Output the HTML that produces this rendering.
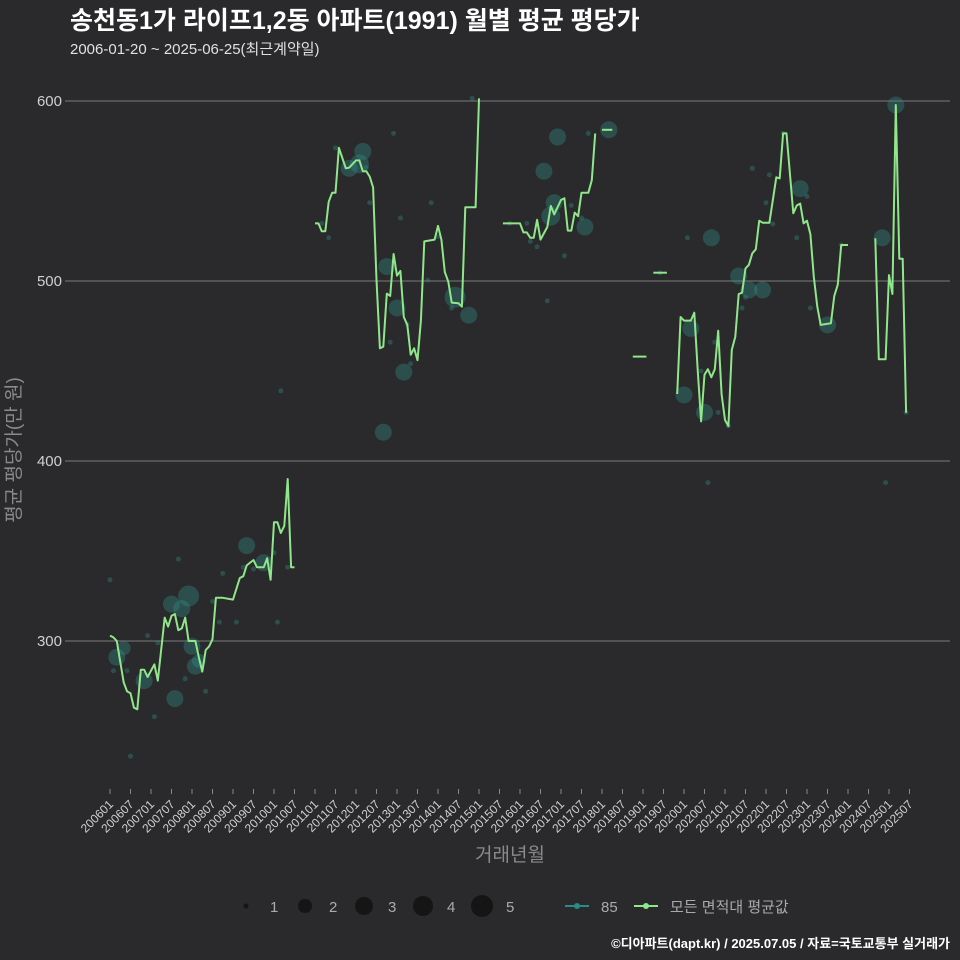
<!DOCTYPE html>
<html><head><meta charset="utf-8">
<style>
html,body{margin:0;padding:0;background:#2a292b;}
svg{display:block;font-family:"Liberation Sans","Noto Sans CJK KR",sans-serif;}
</style></head>
<body>
<svg id="chart" width="960" height="960" viewBox="0 0 960 960" xmlns="http://www.w3.org/2000/svg">
<rect width="960" height="960" fill="#2a292b"/>
<text x="70" y="29" font-size="25" font-weight="bold" fill="#ffffff">송천동1가 라이프1,2동 아파트(1991) 월별 평균 평당가</text>
<text x="70" y="54" font-size="15" fill="#e0e0e0">2006-01-20 ~ 2025-06-25(최근계약일)</text>
<g id="grid"></g>
<g id="yticks"></g>
<g id="xticks"></g>
<g id="bubbles"></g>
<g id="line"></g>
<text transform="translate(20,450) rotate(-90)" text-anchor="middle" font-size="19" fill="#8a8a8a">평균 평당가(만 원)</text>
<text x="510" y="861" text-anchor="middle" font-size="19" fill="#8a8a8a">거래년월</text>
<g font-size="15" fill="#aaaaaa">
  <g><circle cx="246" cy="906" r="2.5" fill="#151515"/><text x="270" y="912">1</text></g>
  <g><circle cx="305" cy="906" r="7" fill="#151515"/><text x="329" y="912">2</text></g>
  <g><circle cx="364" cy="906" r="9" fill="#151515"/><text x="388" y="912">3</text></g>
  <g><circle cx="423" cy="906" r="10" fill="#151515"/><text x="447" y="912">4</text></g>
  <g><circle cx="482" cy="906" r="11" fill="#151515"/><text x="506" y="912">5</text></g>
  <g><line x1="565" y1="906" x2="589" y2="906" stroke="#2a8a86" stroke-width="2"/><circle cx="577" cy="906" r="3" fill="#2a8a86"/><text x="601" y="912">85</text></g>
  <g><line x1="634" y1="906" x2="658" y2="906" stroke="#90e68a" stroke-width="2"/><circle cx="646" cy="906" r="3" fill="#90e68a"/><text x="670" y="912">모든 면적대 평균값</text></g>
</g>
<text x="950" y="948" text-anchor="end" font-size="13" font-weight="bold" fill="#ffffff">©디아파트(dapt.kr) / 2025.07.05 / 자료=국토교통부 실거래가</text>
</svg>
<script>
const yTicks = [300, 400, 500, 600];
const xTickLabels = [];
for (let y = 2006; y <= 2025; y++) { xTickLabels.push(y + "01"); xTickLabels.push(y + "07"); }
// average line: month index from 2006-01, null = break
const lineMonths = [0,1,2,4,5,6,7,8,9,10,11,13,14,16,17,18,19,20,21,22,23,25,26,27,28,29,30,31,33,36,38,39,40,42,43,45,46,47,48,49,50,51,52,53,54,null,
60,61,62,63,64,65,66,67,69,70,72,73,74,75,76,77,78,79,80,81,82,83,84,85,86,87,88,89,90,91,92,95,96,97,98,99,100,102,103,104,107,108,null,
115,120,121,122,123,124,125,126,128,129,130,132,133,134,135,136,137,138,140,141,142,null,
144,147,null,153,157,null,159,163,null,
166,167,168,170,171,172,173,174,175,176,177,178,179,180,181,182,183,184,185,186,187,188,189,190,191,193,195,196,197,198,200,201,202,203,204,205,206,207,208,211,212,213,214,216,null,
224,225,227,228,229,230,231,232,233];
const lineValues = [303,302,300,277,272,271,263,262,284,284,280,287,278,313,308,314,315,306,307,313,300,300,291,283,295,297,301,324,324,323,335,336,342,345,341,341,346,334,366,366,360,364,390,341,341,null,
532,532,527.6,527.6,544,549,549,574,562.6,563,567,567,561,561,558,552,500.5,462.6,463.5,493,491.7,515,503,505.6,480,475.6,459,462.6,456,478,522,523,530.6,523,505,499.6,488,487.6,485.7,541,541,601.5,null,
532,532,527,527,524,524,534,523,530,541.7,537,545,546,528,528,538,536,549,549,556,582,null,
584,584,null,458,458,null,504.6,504.6,null,
437.2,480,478,478,482.4,450.6,422,448,451,446.5,451,472.4,437,422.8,419.4,461.7,469,492.8,493.5,507,509,515.4,517.6,533.5,532.4,532.4,557.6,557,582,582,537.6,542,543,532,533.5,526,502.4,485.7,475.6,476.5,491.7,498,520,520,null,
523.7,456.5,456.5,503.3,492.8,597.8,512.4,512.4,426.8];
// bubbles (85㎡): month, value, count
const bubbleMonths = [0,2,4,1,5,10,11,6,13,14,19,18,23,21,20,22,24,25,26,28,30,32,33,37,40,39,42,45,48,49,52,50,
62,64,66,70,74,73,75,76,83,85,81,84,82,87,86,88,80,94,93,96,101,100,105,106,117,122,123,125,131,127,130,129,128,133,135,138,139,140,146,
161,169,176,168,170,173,174,178,177,181,184,187,191,185,186,188,192,193,194,197,202,204,201,205,210,214,226,230,233,227,175];
const bubbleValues = [334,291,296,283.5,283.5,278,303,236,258,299,268,320.5,325,318,345.5,279,297,286,289,272,322,310.5,337.6,310.5,353,341,340,343.5,349,310.5,341,439,
532,524,574,562.6,572,565,563,543.5,582,535,508,485,466,476,449.4,454,416,543.5,500.5,524.6,491,485,481,601.5,532,532,522,519,580,561,543.5,536,489,514,542,535,530,582,584,
504.6,524,524,436.7,473.7,450,427,427,466,419.4,502.8,495,495,485,491,562.6,543.5,559,531.7,582,551.3,547,524,485,475.6,520,524,597.8,427,388,388];
const bubbleCounts = [1,3,2,1,1,3,1,1,1,1,3,3,5,3,1,1,3,3,2,1,1,1,1,1,3,1,1,3,1,1,1,1,
1,1,1,3,3,4,1,1,1,1,3,3,1,1,3,1,3,1,1,1,5,1,3,1,1,1,1,1,3,3,3,4,1,1,1,1,3,1,3,
1,1,3,3,3,1,3,1,1,1,3,3,3,1,1,1,1,1,1,1,3,1,1,1,3,1,3,3,1,1,1];

const NS = "http://www.w3.org/2000/svg";
function xScale(m){ return 110 + m * 20.5 / 6; }
function yScale(v){ return 101 + (600 - v) * 1.8; }
function rScale(c){ return [0,2.5,7,8.5,9.5,10.5][c]; }

const grid = document.getElementById('grid');
const yt = document.getElementById('yticks');
yTicks.forEach(v => {
  const l = document.createElementNS(NS,'line');
  
  
  l.setAttribute('x1',65); l.setAttribute('x2',950);
  l.setAttribute('y1',yScale(v)); l.setAttribute('y2',yScale(v));
  l.setAttribute('stroke','#7a7a7a'); l.setAttribute('stroke-width','1');
  grid.appendChild(l);
  const t = document.createElementNS(NS,'text');
  
  
  t.setAttribute('x',62); t.setAttribute('y',yScale(v)+5);
  t.setAttribute('text-anchor','end'); t.setAttribute('font-size','15'); t.setAttribute('fill','#d0d0d0');
  t.textContent = v; yt.appendChild(t);
});
const xt = document.getElementById('xticks');
xTickLabels.forEach((lab,i) => {
  const x = xScale(i*6);
  const l = document.createElementNS(NS,'line');
  
  
  l.setAttribute('x1',x); l.setAttribute('x2',x); l.setAttribute('y1',789); l.setAttribute('y2',794);
  l.setAttribute('stroke','#888'); xt.appendChild(l);
  const t = document.createElementNS(NS,'text');
  
  
  t.setAttribute('transform','translate('+(x+4)+',805) rotate(-45)');
  t.setAttribute('text-anchor','end'); t.setAttribute('font-size','12'); t.setAttribute('fill','#d0d0d0');
  t.textContent = lab; xt.appendChild(t);
});
const bg = document.getElementById('bubbles');
bubbleMonths.forEach((m,i) => {
  const c = document.createElementNS(NS,'circle');
  
  
  c.setAttribute('cx',xScale(m)); c.setAttribute('cy',yScale(bubbleValues[i]));
  c.setAttribute('r',rScale(bubbleCounts[i]));
  c.setAttribute('fill','#2f8a84'); c.setAttribute('fill-opacity','0.4');
  bg.appendChild(c);
});
const lg = document.getElementById('line');
let seg = [];
function flush(){
  if (seg.length > 1) {
    const p = document.createElementNS(NS,'polyline');
    
    
    p.setAttribute('points', seg.join(' '));
    p.setAttribute('fill','none'); p.setAttribute('stroke','#90e68a'); p.setAttribute('stroke-width','2');
    p.setAttribute('stroke-linejoin','round');
    lg.appendChild(p);
  }
  seg = [];
}
lineMonths.forEach((m,i) => {
  if (m === null || lineValues[i] === null) { flush(); return; }
  seg.push(xScale(m).toFixed(1)+','+yScale(lineValues[i]).toFixed(1));
});
flush();
</script>
</body></html>
